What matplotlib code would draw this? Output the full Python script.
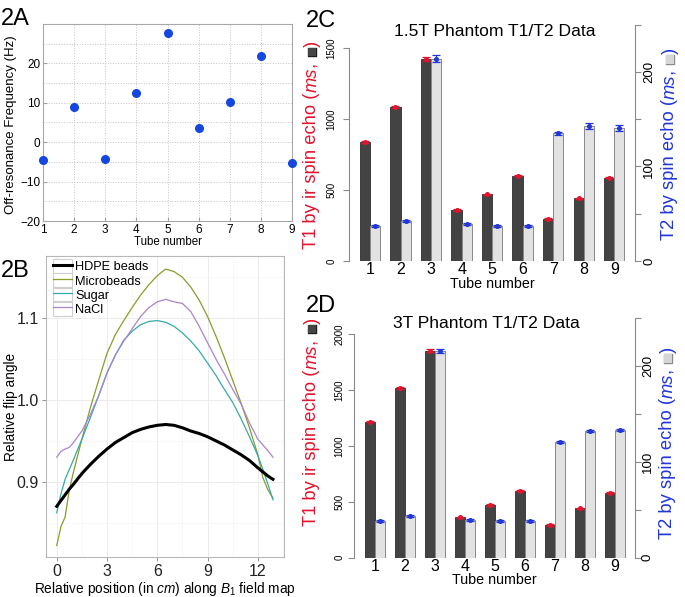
import matplotlib
matplotlib.use('Agg')
import matplotlib.pyplot as plt
import numpy as np
from matplotlib.legend_handler import HandlerLine2D
from matplotlib.patches import Rectangle
import matplotlib.patheffects as pe

plt.rcParams['font.family'] = ['Liberation Sans', 'DejaVu Sans']
plt.rcParams['mathtext.fontset'] = 'custom'
plt.rcParams['mathtext.rm'] = 'Liberation Sans'
plt.rcParams['mathtext.it'] = 'Liberation Sans:italic'

# ---------------- data ----------------
tubes = [1, 2, 3, 4, 5, 6, 7, 8, 9]
offres_hz = [-4.6, 8.9, -4.2, 12.6, 27.6, 3.6, 10.3, 22.0, -5.3]

b1_pos = [0, 0.25, 0.5, 0.75, 1, 1.5, 2, 2.5, 3, 3.5, 4, 4.5, 5, 5.5, 6, 6.5,
          7, 7.5, 8, 8.5, 9, 9.5, 10, 10.5, 11, 11.5, 12, 12.3, 12.6, 12.9]
hdpe = [0.870, 0.877, 0.884, 0.891, 0.897, 0.910, 0.921, 0.931, 0.940, 0.948,
        0.954, 0.960, 0.964, 0.967, 0.969, 0.970, 0.969, 0.966, 0.962, 0.959,
        0.955, 0.950, 0.945, 0.939, 0.933, 0.926, 0.917, 0.912, 0.907, 0.903]
microbeads = [0.822, 0.845, 0.857, 0.890, 0.912, 0.952, 0.990, 1.024, 1.057, 1.080,
              1.097, 1.113, 1.128, 1.141, 1.152, 1.160, 1.157, 1.150, 1.138, 1.122,
              1.102, 1.078, 1.052, 1.024, 0.996, 0.966, 0.933, 0.905, 0.890, 0.880]
sugar = [0.862, 0.885, 0.903, 0.915, 0.927, 0.952, 0.978, 1.005, 1.033, 1.055,
         1.073, 1.084, 1.092, 1.096, 1.097, 1.095, 1.090, 1.082, 1.072, 1.060,
         1.045, 1.030, 1.013, 0.997, 0.977, 0.955, 0.932, 0.915, 0.897, 0.878]
nacl = [0.930, 0.937, 0.940, 0.942, 0.948, 0.962, 0.982, 1.005, 1.033, 1.055,
        1.072, 1.087, 1.102, 1.113, 1.120, 1.123, 1.120, 1.118, 1.108, 1.090,
        1.070, 1.050, 1.032, 1.013, 0.995, 0.972, 0.952, 0.945, 0.938, 0.930]
b1_series = ['HDPE beads', 'Microbeads', 'Sugar', 'NaCl']

t1_15 = [837, 1086, 1425, 362, 470, 602, 296, 442, 588]
t1_15_err = [6, 8, 12, 6, 5, 5, 6, 5, 6]
t2_15 = [37.4, 42.7, 214.0, 39.2, 37.4, 37.4, 135.0, 142.4, 140.7]
t2_15_err = [1, 1, 4, 1, 1, 1, 1.5, 3, 3]

t1_3 = [1218, 1522, 1854, 362, 472, 600, 293, 442, 582]
t1_3_err = [6, 8, 12, 5, 5, 5, 5, 5, 6]
t2_3 = [38.5, 43.4, 215.0, 39.3, 37.9, 38.5, 121.0, 132.0, 132.7]
t2_3_err = [1, 1, 2, 1, 1, 1, 1, 1, 1]

# ---------------- figure ----------------
W, H = 685, 597
fig = plt.figure(figsize=(W / 100, H / 100), dpi=100)


def box(l, t, r, b):
    return [l / W, 1 - b / H, (r - l) / W, (b - t) / H]


# ---------------- 2A ----------------
axA = fig.add_axes(box(43, 24, 292, 221))
axA.plot(tubes, offres_hz, 'o', color='#1546e0', ms=5.5, zorder=3, clip_on=False)
axA.set_xlim(1, 9)
axA.set_ylim(-20, 30)
axA.set_xticks(tubes)
axA.set_yticks([-20, -10, 0, 10, 20])
axA.set_yticks([-15, -5, 5, 15, 25], minor=True)
axA.grid(True, which='both', ls=':', color='#c4c4c4', lw=0.7)
axA.tick_params(which='both', direction='in', length=3, color='#a0a0a0', labelsize=8.5, pad=2)
axA.tick_params(which='minor', length=0)
for s in axA.spines.values():
    s.set_color('#a8a8a8')
    s.set_linewidth(0.8)
axA.set_xlabel('Tube number', fontsize=8.3, labelpad=0)
axA.set_ylabel('Off-resonance Frequency (Hz)', fontsize=9.5, va='center')
axA.yaxis.set_label_coords((11 - 43) / 249, 0.49)

# ---------------- 2B ----------------
axB = fig.add_axes(box(46, 256, 284, 557))
b1_colors = ['black', '#8d9a2c', '#35aaa8', '#a984d0']
b1_widths = [2.2, 0.9, 0.9, 0.9]
lines = []
for name, vals, c, lw in zip(b1_series, [hdpe, microbeads, sugar, nacl], b1_colors, b1_widths):
    ln, = axB.plot(b1_pos, vals, color=c, lw=lw, label=name, zorder=3 if name == 'HDPE beads' else 2)
    lines.append(ln)
axB.set_xlim(-0.64, 13.56)
axB.set_ylim(0.808, 1.176)
axB.set_xticks([0, 3, 6, 9, 12])
axB.set_xticks([1.5, 4.5, 7.5, 10.5, 13.5], minor=True)
axB.set_yticks([0.9, 1.0, 1.1])
axB.set_yticklabels(['0.9', '1.0', '1.1'])
axB.set_yticks([0.85, 0.95, 1.05, 1.15], minor=True)
axB.grid(True, which='major', color='#ebebeb', lw=0.7)
axB.grid(True, which='minor', color='#f5f5f5', lw=0.5)
axB.set_axisbelow(True)
axB.tick_params(which='major', direction='out', length=3, color='#808080', width=0.6,
                labelsize=11.5, labelcolor='#222222', pad=2)
axB.tick_params(which='minor', length=0)
for s in axB.spines.values():
    s.set_color('#b8b8b8')
    s.set_linewidth(0.8)
axB.set_xlabel(r'Relative position (in $\mathit{cm}$) along $\mathit{B}_1$ field map', fontsize=9.8, labelpad=1)
axB.set_ylabel('Relative flip angle', fontsize=9.8, va='center')
axB.yaxis.set_label_coords((11 - 46) / 238, 0.5)


class BoxedLine(HandlerLine2D):
    def create_artists(self, legend, orig_handle, xdescent, ydescent, width, height, fontsize, trans):
        arts = super().create_artists(legend, orig_handle, xdescent, ydescent, width, height, fontsize, trans)
        rect = Rectangle((-xdescent, -ydescent), width, height, facecolor='white',
                         edgecolor='#cfcfcf', lw=0.8, transform=trans)
        return [rect] + list(arts)


leg = axB.legend(handles=lines, loc='upper left',
                 bbox_to_anchor=((52 - 46) / 238, (557 - 258) / 301),
                 fontsize=9.2, frameon=False, borderpad=0.1, labelspacing=0.0,
                 handlelength=1.45, handleheight=1.28, handletextpad=0.25,
                 borderaxespad=0, handler_map={l: BoxedLine() for l in lines})


# ---------------- 2C / 2D ----------------
RED = '#e3142e'
BLUE = '#2036dc'


def bar_panel(rect, t1, t1e, t2, t2e, ylim1, ylim2, ticks1, title, title_xpx,
              left_pad, right_pad):
    l, t, r, b = rect
    ax = fig.add_axes(box(l, t, r, b))
    ax2 = ax.twinx()
    pos = 3 * np.arange(1, len(tubes) + 1) - 1
    ax.bar(pos - 0.5, t1, width=1, color='#434343', edgecolor='#2e2e2e', lw=0.6)
    ax2.bar(pos + 0.5, t2, width=1, color='#e2e2e2', edgecolor='#888888', lw=0.7)
    ax.errorbar(pos - 0.5, t1, yerr=t1e, fmt='o', ms=2.6, color=RED, capsize=3,
                elinewidth=0.8, capthick=0.9)
    ax2.errorbar(pos + 0.5, t2, yerr=t2e, fmt='o', ms=2.6, color=BLUE, capsize=3,
                 elinewidth=0.8, capthick=0.9)
    ax.set_xlim(-0.04, 28.04)
    ax.set_ylim(0, ylim1)
    ax2.set_ylim(0, ylim2)
    for k in ['top', 'right', 'bottom']:
        ax.spines[k].set_visible(False)
    for k in ['top', 'left', 'bottom']:
        ax2.spines[k].set_visible(False)
    ax.spines['left'].set_bounds(0, ticks1[-1])
    ax2.spines['right'].set_bounds(0, 250)
    for s in [ax.spines['left'], ax2.spines['right']]:
        s.set_color('#8a8a8a')
        s.set_linewidth(0.8)
    ax.set_yticks(ticks1)
    ax.set_yticklabels([str(v) for v in ticks1], rotation=90, va='center')
    ax.tick_params(axis='y', direction='out', length=4, color='#8a8a8a', labelsize=7,
                   pad=left_pad)
    r_ticks = [0, 50, 100, 150, 200, 250]
    ax2.set_yticks(r_ticks)
    ax2.set_yticklabels([str(v) if v % 100 == 0 else '' for v in r_ticks], rotation=90, va='center')
    ax2.tick_params(axis='y', direction='out', length=4, color='#8a8a8a', labelsize=9.5,
                    pad=right_pad)
    ax.set_xticks(pos)
    ax.set_xticklabels([str(v) for v in tubes])
    ax.tick_params(axis='x', length=0, labelsize=11.5, pad=1)
    ax.set_xlabel('Tube number', fontsize=10.3, labelpad=-0.5)
    ax.text((title_xpx - l) / (r - l), 1 - 11 / (b - t), title, transform=ax.transAxes,
            ha='center', va='center', fontsize=12.6)
    return ax, ax2


style_edge = {'#454545': '#1e1e1e', '#d6d6d6': '#8c8c8c'}


def vlabel(ax, x_px, yc_px, pieces, fs):
    arts = []
    prev = None
    for s, col, style, kind in pieces:
        kw = dict(rotation=90, color=col, fontsize=fs, style=style, ha='center', va='bottom')
        if kind == 'box':
            kw['fontsize'] = fs * 0.62
            kw['family'] = ['DejaVu Sans']
            kw['path_effects'] = [pe.withStroke(linewidth=1.0, foreground=style_edge[col])]
            kw['style'] = 'normal'
        if prev is None:
            a = fig.text(x_px / W, 0.5, s, **kw)
        else:
            a = ax.annotate(s, xy=(0.5, 1), xycoords=prev, annotation_clip=False, **kw)
        arts.append(a)
        prev = a
    fig.canvas.draw()
    r = fig.canvas.get_renderer()
    y0 = arts[0].get_window_extent(r).y0
    y1 = arts[-1].get_window_extent(r).y1
    shift = (H - yc_px) - (y0 + y1) / 2
    arts[0].set_y(0.5 + shift / H)
    return arts


axC, axC2 = bar_panel((349.3, 20, 635, 261), t1_15, t1_15_err, t2_15, t2_15_err,
                      1699.6, 254.8, [0, 500, 1000, 1500], '1.5T Phantom T1/T2 Data', 495, 5, 2)
axD, axD2 = bar_panel((354.3, 312, 635, 557.7), t1_3, t1_3_err, t2_3, t2_3_err,
                      2200, 256, [0, 500, 1000, 1500, 2000], '3T Phantom T1/T2 Data', 486, 3, 1)

left_pieces = [('T1 by ir spin echo (', RED, 'normal', 't'), ('ms', RED, 'italic', 't'),
               (', ', RED, 'normal', 't'), ('\u25A0', '#454545', 'normal', 'box'),
               (')', RED, 'normal', 't')]
right_pieces = [('T2 by spin echo (', BLUE, 'normal', 't'), ('ms', BLUE, 'italic', 't'),
                (', ', BLUE, 'normal', 't'), ('\u25A0', '#d6d6d6', 'normal', 'box'),
                (')', BLUE, 'normal', 't')]
vlabel(axC, 312, 144.5, left_pieces, 13.2)
vlabel(axD, 312, 421.5, left_pieces, 13.2)
vlabel(axC, 670, 144, right_pieces, 13.2)
vlabel(axD, 668, 443, right_pieces, 13.2)

# ---------------- panel letters ----------------
for lab, x, y in [('2A', 1, 25), ('2B', 1, 277), ('2C', 306, 27), ('2D', 306, 312)]:
    fig.text(x / W, 1 - y / H, lab, fontsize=17, va='baseline', ha='left')

fig.savefig('out.png', dpi=100)
